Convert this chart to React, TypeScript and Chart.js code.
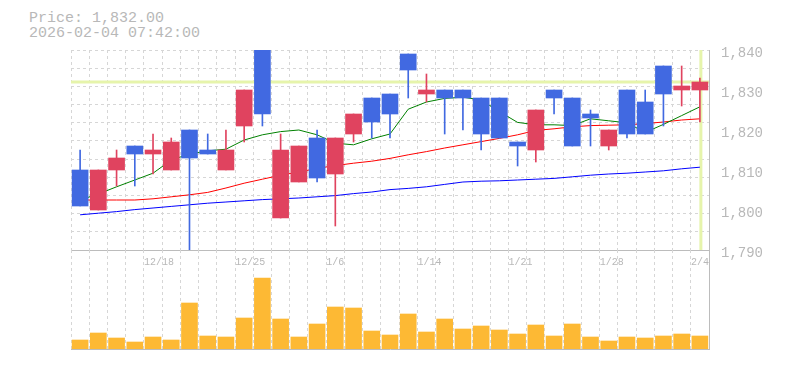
import React, { useEffect, useRef } from "react";
import { Chart, registerables } from "chart.js";

Chart.register(...registerables);

// ---- data ----
const dates = [
  "12/12", "12/15", "12/16", "12/17", "12/18", "12/19", "12/22", "12/23", "12/24", "12/25",
  "12/26", "12/29", "12/30", "1/5", "1/6", "1/7", "1/8", "1/9", "1/13", "1/14",
  "1/15", "1/16", "1/19", "1/20", "1/21", "1/22", "1/23", "1/26", "1/27", "1/28",
  "1/29", "1/30", "2/2", "2/3", "2/4",
];
const tickDates = ["12/18", "12/25", "1/6", "1/14", "1/21", "1/28", "2/4"];

const opens = [
  1810, 1800, 1810, 1816, 1814, 1810, 1820, 1815, 1810, 1821,
  1840, 1798, 1807, 1818, 1809, 1819, 1828, 1829, 1839, 1829,
  1830, 1830, 1828, 1828, 1817, 1815, 1830, 1828, 1824, 1816,
  1830, 1827, 1836, 1830, 1830,
];
const highs = [
  1815, 1810, 1815, 1816, 1819, 1818, 1820, 1819, 1820, 1830,
  1840, 1819, 1816, 1820, 1818, 1824, 1828, 1829, 1839, 1834,
  1830, 1830, 1828, 1828, 1817, 1825, 1830, 1828, 1825, 1820,
  1830, 1830, 1836, 1836, 1833,
];
const lows = [
  1801, 1800, 1806, 1806, 1809, 1810, 1790, 1814, 1810, 1817,
  1821, 1798, 1807, 1807, 1796, 1817, 1818, 1818, 1828, 1827,
  1819, 1820, 1815, 1818, 1811, 1812, 1824, 1816, 1816, 1815,
  1818, 1819, 1821, 1826, 1822,
];
const closes = [
  1801, 1810, 1813, 1814, 1815, 1817, 1813, 1814, 1815, 1830,
  1824, 1815, 1816, 1808, 1818, 1824, 1822, 1824, 1835, 1830,
  1828, 1828, 1819, 1818, 1816, 1825, 1828, 1816, 1823, 1820,
  1819, 1819, 1829, 1831, 1832,
];

const ma5 = [
  1802.5, 1804, 1805.8, 1807.5, 1809.2, 1812.5, 1814, 1814.8, 1815.2, 1817.5,
  1818.8, 1819.6, 1820, 1818.8, 1816.7, 1816.3, 1817.8, 1819, 1825.2, 1827,
  1827.9, 1828.2, 1827.5, 1824.6, 1821.9, 1821.3, 1821.3, 1821.1, 1822.8, 1822.3,
  1821.8, 1819.4, 1821.4, 1823.6, 1825.8,
];
const ma25 = [
  1802.5, 1802.5, 1802.5, 1802.5, 1802.8, 1803.3, 1803.8, 1804.4, 1805.5, 1806.7,
  1807.7, 1808.7, 1809.5, 1810.4, 1811.1, 1811.7, 1812.2, 1812.9, 1813.8, 1814.6,
  1815.5, 1816.3, 1817.1, 1817.9, 1818.8, 1819.9, 1820.3, 1820.8, 1821.1, 1821.2,
  1821.3, 1821.6, 1822, 1822.5, 1822.8,
];
const ma75 = [
  1798.8, 1799.2, 1799.6, 1800.1, 1800.5, 1800.9, 1801.3, 1801.7, 1802, 1802.3,
  1802.6, 1802.8, 1803, 1803.3, 1803.6, 1804.1, 1804.5, 1805.1, 1805.4, 1805.8,
  1806.4, 1807, 1807.2, 1807.3, 1807.5, 1807.7, 1807.9, 1808.3, 1808.7, 1809,
  1809.2, 1809.5, 1809.8, 1810.3, 1810.7,
];

const volumes = [
  90, 160, 110, 70, 120, 90, 460, 130, 120, 310,
  710, 300, 120, 250, 420, 410, 180, 140, 350, 170,
  300, 200, 230, 190, 150, 240, 130, 250, 120, 80,
  120, 110, 130, 150, 130,
];

const priceTicks = [1790, 1800, 1810, 1820, 1830, 1840];
const currentPrice = 1832;
const titleLines = ["Price: 1,832.00", "2026-02-04 07:42:00"];

// ---- styles ----
const UP = "#e0435f";
const DOWN = "#4169e1";
const VOL = "#fdb934";
const GRID = "#d6d6d6";
const AXIS = "#bcbcbc";
const TEXT = "#b8b8b8";
const MARK = "#e6f4ab";
const FONT = "'Liberation Mono', 'DejaVu Sans Mono', monospace";
const GRID_ROWS = 11;

const candleColors = opens.map((o, i) => (closes[i] >= o ? UP : DOWN));

const priceMarker = {
  id: "priceMarker",
  beforeDatasetsDraw(chart: any) {
    const { ctx, chartArea, scales } = chart;
    const y = scales.y.getPixelForValue(currentPrice);
    const x = scales.x.getPixelForValue(dates.length - 1);
    ctx.save();
    ctx.beginPath();
    ctx.rect(chartArea.left, chartArea.top, chartArea.right - chartArea.left, chartArea.bottom - chartArea.top);
    ctx.clip();
    ctx.strokeStyle = MARK;
    ctx.lineWidth = 3;
    ctx.beginPath();
    ctx.moveTo(chartArea.left, y);
    ctx.lineTo(chartArea.right, y);
    ctx.moveTo(x + 1, chartArea.top);
    ctx.lineTo(x + 1, chartArea.bottom);
    ctx.stroke();
    ctx.restore();
  },
};

export default function App() {
  const priceRef = useRef<HTMLCanvasElement | null>(null);
  const volRef = useRef<HTMLCanvasElement | null>(null);

  useEffect(() => {
    const lineDs = (data: number[], color: string, order: number) => ({
      type: "line" as const,
      data,
      borderColor: color,
      backgroundColor: color,
      borderWidth: 1,
      pointRadius: 0,
      tension: 0,
      yAxisID: "y",
      order,
    });

    const priceChart = new Chart(priceRef.current as HTMLCanvasElement, {
      type: "bar",
      data: {
        labels: dates,
        datasets: [
          lineDs(ma75, "#0000ff", 5) as any,
          lineDs(ma25, "#ff0000", 4) as any,
          lineDs(ma5, "#008000", 3) as any,
          {
            type: "bar",
            data: lows.map((l, i) => [l, highs[i]]),
            backgroundColor: candleColors,
            barThickness: 1,
            grouped: false,
            borderWidth: 0,
            yAxisID: "y",
            order: 2,
          } as any,
          {
            type: "bar",
            data: opens.map((o, i) => [o, closes[i]]),
            backgroundColor: candleColors,
            barThickness: 16,
            grouped: false,
            borderWidth: 0,
            yAxisID: "y",
            order: 1,
          } as any,
        ],
      },
      options: {
        responsive: false,
        animation: false,
        layout: { padding: { left: 71, top: 50, right: 0, bottom: 0 } },
        plugins: { legend: { display: false }, tooltip: { enabled: false } },
        scales: {
          x: {
            offset: true,
            grid: { offset: true, color: GRID, drawTicks: false, lineWidth: 1 },
            border: { display: true, color: AXIS, width: 1, dash: [3, 3] },
            ticks: {
              autoSkip: false,
              maxRotation: 0,
              minRotation: 0,
              align: "start",
              labelOffset: -9,
              padding: 6,
              color: TEXT,
              font: { family: FONT, size: 10 },
              callback: (_v: any, i: number) => (tickDates.includes(dates[i]) ? dates[i] : ""),
            },
            afterFit: (s: any) => {
              s.height = 20;
              s.paddingLeft = 0;
              s.paddingRight = 0;
            },
          },
          g: {
            position: "left",
            min: 0,
            max: GRID_ROWS,
            grid: { color: GRID, drawTicks: false, lineWidth: 1 },
            border: { display: false, dash: [3, 3] },
            ticks: { display: false },
            afterBuildTicks: (s: any) => {
              const t = [];
              for (let k = 0; k <= GRID_ROWS; k++) t.push({ value: k });
              s.ticks = t;
            },
            afterFit: (s: any) => {
              s.width = 0;
              s.paddingTop = 0;
              s.paddingBottom = 0;
            },
          },
          y: {
            position: "right",
            min: priceTicks[0],
            max: priceTicks[priceTicks.length - 1],
            grid: { display: false, drawTicks: false },
            border: { display: true, color: AXIS, width: 1 },
            ticks: {
              padding: 12,
              labelOffset: 3,
              color: TEXT,
              font: { family: FONT, size: 14 },
              callback: (v: any) => Number(v).toLocaleString("en-US"),
            },
            afterBuildTicks: (s: any) => {
              s.ticks = priceTicks.map((value) => ({ value }));
            },
            afterFit: (s: any) => {
              s.width = 76;
              s.paddingTop = 0;
              s.paddingBottom = 0;
            },
          },
        } as any,
      },
      plugins: [priceMarker],
    });

    const volChart = new Chart(volRef.current as HTMLCanvasElement, {
      type: "bar",
      data: {
        labels: dates,
        datasets: [
          {
            data: volumes,
            backgroundColor: VOL,
            barThickness: 16,
            borderWidth: 0,
          },
        ],
      },
      options: {
        responsive: false,
        animation: false,
        layout: { padding: { left: 71, top: 0, right: 0, bottom: 0 } },
        plugins: { legend: { display: false }, tooltip: { enabled: false } },
        scales: {
          x: {
            offset: true,
            grid: { offset: true, color: GRID, drawTicks: false, lineWidth: 1 },
            border: { display: true, color: AXIS, width: 1, dash: [3, 3] },
            ticks: { display: false },
            afterFit: (s: any) => {
              s.height = 11;
              s.paddingLeft = 0;
              s.paddingRight = 0;
            },
          },
          y: {
            position: "right",
            min: 0,
            max: 990,
            grid: { display: false, drawTicks: false },
            border: { display: true, color: AXIS, width: 1 },
            ticks: { display: false },
            afterFit: (s: any) => {
              s.width = 76;
              s.paddingTop = 0;
              s.paddingBottom = 0;
            },
          },
        } as any,
      },
    });

    return () => {
      priceChart.destroy();
      volChart.destroy();
    };
  }, []);

  return (
    <div
      style={{
        position: "fixed",
        left: 0,
        top: 0,
        width: 785,
        height: 370,
        background: "#ffffff",
        overflow: "hidden",
      }}
    >
      <div
        style={{
          position: "absolute",
          left: 29,
          top: 11,
          fontFamily: FONT,
          fontSize: 15,
          lineHeight: "15px",
          color: TEXT,
          whiteSpace: "pre",
        }}
      >
        {titleLines.map((t) => (
          <div key={t}>{t}</div>
        ))}
      </div>
      <canvas
        ref={priceRef}
        width={785}
        height={270}
        style={{ position: "absolute", left: 0, top: 0, width: 785, height: 270 }}
      />
      <canvas
        ref={volRef}
        width={785}
        height={110}
        style={{ position: "absolute", left: 0, top: 250, width: 785, height: 110 }}
      />
    </div>
  );
}
